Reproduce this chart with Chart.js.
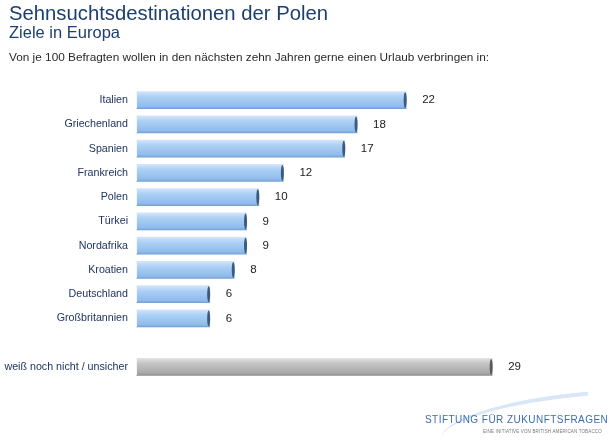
<html>
<head>
<meta charset="utf-8">
<title>Sehnsuchtsdestinationen der Polen</title>
<script src="https://cdn.jsdelivr.net/npm/chart.js@4/dist/chart.umd.min.js"></script>
<style>
  body { margin: 0; background: #fff; font-family: "Liberation Sans", Arial, sans-serif; }
  #wrap { position: relative; width: 610px; height: 440px; overflow: hidden; }
  #chart { position: absolute; left: 0; top: 0; }
  .t1 { position: absolute; left: 9px; top: 2px; font-size: 20.3px; color: #1c3f6e; }
  .t2 { position: absolute; left: 9px; top: 23px; font-size: 16.5px; color: #1c3f6e; }
  .t3 { position: absolute; left: 9px; top: 50px; font-size: 11.8px; color: #2a2a2a; }
  .logo { position: absolute; left: 425px; top: 414px; font-size: 10px; color: #3d6eae; letter-spacing: 0.45px; white-space: nowrap; }
  .logo2 { position: absolute; left: 483px; top: 429px; font-size: 4.5px; color: #777; letter-spacing: 0.15px; white-space: nowrap; }
  .swoosh { position: absolute; left: 440px; top: 398px; width: 150px; height: 30px; border-top: 4px solid #d8e6f6; border-radius: 100% 0 0 0; transform: rotate(-5deg); }
</style>
</head>
<body>
<div id="wrap">
  <canvas id="chart" width="610" height="440"></canvas>
  <div class="t1">Sehnsuchtsdestinationen der Polen</div>
  <div class="t2">Ziele in Europa</div>
  <div class="t3">Von je 100 Befragten wollen in den nächsten zehn Jahren gerne einen Urlaub verbringen in:</div>
  <div class="swoosh"></div>
  <div class="logo">STIFTUNG FÜR ZUKUNFTSFRAGEN</div>
  <div class="logo2">EINE INITIATIVE VON BRITISH AMERICAN TOBACCO</div>
</div>
<script>
  // Werte pro 100 Befragte
  var categories = ["Italien", "Griechenland", "Spanien", "Frankreich", "Polen", "Türkei",
                    "Nordafrika", "Kroatien", "Deutschland", "Großbritannien", "", "weiß noch nicht / unsicher"];
  var values = [22, 18, 17, 12, 10, 9, 9, 8, 6, 6, null, 29];
  var valueLabels = ["22", "18", "17", "12", "10", "9", "9", "8", "6", "6", "", "29"];
  var grayIndex = 11;

  function barFill(c) {
    var chart = c.chart;
    var el = chart.getDatasetMeta(0).data[c.dataIndex];
    var gray = c.dataIndex === grayIndex;
    if (!el || !isFinite(el.y)) return gray ? "#b5b5b5" : "#9cc3ec";
    var g = chart.ctx.createLinearGradient(0, el.y - 9, 0, el.y + 9);
    if (gray) {
      g.addColorStop(0, "#e4e4e4");
      g.addColorStop(0.3, "#c6c6c6");
      g.addColorStop(0.55, "#b8b8b8");
      g.addColorStop(0.85, "#a8a8a8");
      g.addColorStop(1, "#8a8a8a");
    } else {
      g.addColorStop(0, "#d6e7fa");
      g.addColorStop(0.3, "#aed1f5");
      g.addColorStop(0.55, "#9fc7f0");
      g.addColorStop(0.85, "#90bbea");
      g.addColorStop(1, "#6f9dd2");
    }
    return g;
  }

  // dunkle Endkappe und Wertbeschriftung
  var endCaps = {
    id: "endCaps",
    afterDatasetsDraw: function(chart) {
      var ctx = chart.ctx;
      var meta = chart.getDatasetMeta(0);
      ctx.save();
      meta.data.forEach(function(bar, i) {
        if (values[i] == null) return;
        var h = bar.height;
        ctx.fillStyle = i === grayIndex ? "#5a5a5a" : "#3a5a80";
        ctx.beginPath();
        ctx.ellipse(bar.x - 1, bar.y, 1.5, h / 2 - 0.5, 0, 0, Math.PI * 2);
        ctx.fill();
        ctx.fillStyle = "#f4f8fd";
        ctx.fillRect(bar.base, bar.y - h / 2, 1, h);
        ctx.fillStyle = "#222";
        ctx.font = "11.5px 'Liberation Sans', Arial, sans-serif";
        ctx.textAlign = "left";
        ctx.textBaseline = "middle";
        ctx.fillText(valueLabels[i], bar.x + 16, bar.y);
      });
      ctx.restore();
    }
  };

  var chart = new Chart(document.getElementById("chart").getContext("2d"), {
    type: "bar",
    data: {
      labels: categories,
      datasets: [{
        data: values,
        backgroundColor: barFill,
        borderWidth: 0,
        barThickness: 17
      }]
    },
    options: {
      indexAxis: "y",
      responsive: false,
      animation: false,
      layout: { padding: { top: 88, bottom: 61, left: 0, right: 81 } },
      plugins: { legend: { display: false }, tooltip: { enabled: false } },
      scales: {
        x: { display: false, min: 0, max: 32 },
        y: {
          grid: { display: false, drawTicks: false },
          border: { display: false },
          afterFit: function(s) { s.width = 136; },
          ticks: {
            padding: 8,
            color: "#1f3560",
            font: { family: "'Liberation Sans', Arial, sans-serif", size: 10.7 }
          }
        }
      }
    },
    plugins: [endCaps]
  });
  chart.update();
</script>
</body>
</html>
